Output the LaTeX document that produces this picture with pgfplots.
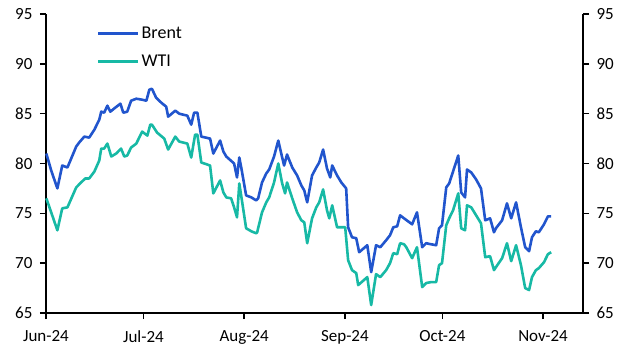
\documentclass[border=0pt]{standalone}
\usepackage{pgfplots}
\pgfplotsset{compat=1.18}
\usepackage{fontspec}
\setmainfont{Carlito}
\definecolor{brent}{RGB}{33,85,205}
\definecolor{wti}{RGB}{23,185,165}
\pgfplotstableread{
d v
0.1 81.0
1.6 79.3
3.5 77.5
5.0 79.8
6.6 79.6
9.3 81.7
10.2 82.1
11.8 82.7
13.3 82.6
14.9 83.4
16.4 84.4
17.0 85.2
17.9 85.1
18.9 85.8
19.8 85.2
21.3 85.6
22.9 86.0
23.8 85.1
25.0 85.2
26.2 86.3
27.8 86.5
29.6 86.4
30.9 86.3
31.8 87.4
32.6 87.5
33.9 86.6
35.5 86.1
37.0 85.7
37.6 84.7
39.8 85.3
41.0 85.0
43.5 84.8
44.7 83.9
45.6 85.1
46.6 85.1
47.8 82.7
50.5 82.5
51.5 81.0
53.6 82.3
54.6 81.2
55.5 80.7
57.9 80.0
58.8 78.6
59.5 80.6
60.1 79.6
61.6 76.8
63.2 76.6
64.7 76.3
65.3 76.5
66.5 78.1
67.8 79.0
68.7 79.4
70.2 80.7
71.5 82.3
72.7 80.6
73.3 79.8
74.2 80.9
75.8 79.6
77.3 78.8
78.6 77.8
79.5 77.3
80.4 76.1
81.9 78.8
83.2 79.6
84.1 80.1
85.3 81.4
86.5 79.5
87.5 78.6
88.1 79.8
89.6 78.8
90.9 78.1
92.4 77.5
93.0 73.6
94.2 72.6
95.5 72.5
96.4 71.1
98.9 71.8
100.1 69.1
101.6 71.8
102.9 71.6
104.7 72.3
105.9 72.8
106.9 73.6
108.1 73.7
109.0 74.8
110.2 74.5
112.7 73.9
114.2 75.1
115.8 71.6
117.0 72.0
118.5 71.9
120.1 71.8
121.0 73.5
121.9 73.8
123.2 77.6
124.1 78.0
125.3 79.2
126.9 80.8
127.8 77.1
129.0 76.6
129.6 79.4
130.9 79.1
132.4 78.4
133.9 77.5
135.2 74.3
136.7 74.5
137.9 73.1
138.5 73.5
140.4 74.3
141.9 76.0
143.2 74.5
144.7 76.1
146.2 73.6
147.5 71.6
148.7 71.2
149.6 72.6
150.8 73.2
151.7 73.1
153.3 73.9
154.5 74.7
155.5 74.7
}\brenttable
\pgfplotstableread{
d v
0.1 76.5
1.6 75.1
3.5 73.3
5.0 75.5
6.6 75.6
9.3 77.6
10.8 78.1
12.1 78.5
13.3 78.5
14.9 79.2
16.4 80.3
17.0 81.5
17.9 81.5
18.9 82.0
20.1 80.7
21.6 81.0
23.1 81.5
24.1 80.7
25.0 80.8
26.2 81.6
27.8 82.0
29.6 83.2
31.2 82.8
32.1 83.9
32.6 83.9
34.2 83.1
36.4 82.5
37.6 81.4
39.8 82.7
41.0 82.2
43.5 82.0
44.7 80.6
45.9 82.9
46.6 82.9
47.8 80.1
50.5 79.8
51.5 77.0
53.6 78.3
54.6 77.1
55.5 76.6
57.0 76.5
57.9 75.6
58.8 74.6
59.5 78.0
60.4 76.1
61.6 73.5
63.2 73.2
64.7 73.0
65.0 73.1
66.5 75.1
67.8 76.1
68.7 76.6
70.2 78.1
71.5 80.0
72.7 78.0
73.6 77.0
74.2 78.1
75.8 76.5
77.3 75.1
78.6 74.3
79.5 74.1
80.4 72.0
81.9 74.5
83.2 75.6
84.1 76.1
85.3 77.4
86.5 75.3
87.2 74.5
88.1 75.8
89.6 73.6
92.1 73.6
93.0 70.3
94.2 69.3
95.5 69.0
96.1 67.8
98.9 68.6
100.1 65.8
101.6 68.9
102.9 68.6
104.7 69.3
105.9 70.0
106.9 71.0
108.1 70.9
109.0 72.0
110.2 71.9
110.9 71.6
112.7 70.5
114.2 71.6
115.8 67.6
117.0 68.0
118.5 68.1
120.1 68.1
121.0 69.8
121.9 70.0
123.2 73.8
124.1 74.5
125.3 75.3
126.9 77.0
127.8 73.5
129.0 73.3
129.6 75.8
130.9 75.6
132.4 74.8
133.9 74.0
135.2 70.6
136.7 70.7
137.9 69.3
138.5 69.6
140.4 70.5
141.9 72.0
143.2 70.2
144.7 71.8
146.2 69.8
147.5 67.5
148.7 67.3
149.6 68.6
150.8 69.3
151.7 69.5
153.3 70.1
154.5 70.9
155.5 71.1
}\wtitable
\begin{document}
\begin{tikzpicture}
\pgfplotsset{
  common/.style={
    width=537bp, height=299bp, scale only axis,
    xmin=0, xmax=165.3, ymin=65, ymax=95,
    ytick={65,70,...,95},
    tick align=outside,
    major tick length=6bp,
    every tick/.style={black, line width=1.6bp},
    axis line style={black, line width=2.2bp},
    tick label style={font=\fontsize{17bp}{19bp}\selectfont},
    /pgf/number format/assume math mode=true,
    clip=false,
  }
}
\begin{axis}[common,
  axis x line*=bottom, axis y line*=left,
  xtick={0,30,61,92,122,153},
  xticklabels={Jun-24,Jul-24,Aug-24,Sep-24,Oct-24,Nov-24},
  xticklabel style={yshift=-8bp},
  yticklabel style={xshift=-4bp},
  legend style={draw=none, fill=none, at={(0.0885,0.971)}, anchor=north west,
    font=\fontsize{18bp}{21bp}\selectfont, row sep=11bp,
    legend cell align=left},
  legend image code/.code={\draw[#1, line width=3bp] (0bp,0bp) -- (40bp,0bp);},
]
\coordinate (BL) at (rel axis cs:0,0);
\coordinate (TR) at (rel axis cs:1,1);
\addplot[brent, line width=2.6bp, line join=round] table[x=d,y=v] {\brenttable};
\addlegendentry{Brent}
\addplot[wti, line width=2.6bp, line join=round] table[x=d,y=v] {\wtitable};
\addlegendentry{WTI}
\end{axis}
\begin{axis}[common,
  axis x line=none, axis y line*=right,
  yticklabel style={xshift=4bp},
]
\end{axis}
\pgfresetboundingbox
\path ([shift={(-46bp,-38bp)}]BL) rectangle ([shift={(50bp,14bp)}]TR);
\end{tikzpicture}
\end{document}
